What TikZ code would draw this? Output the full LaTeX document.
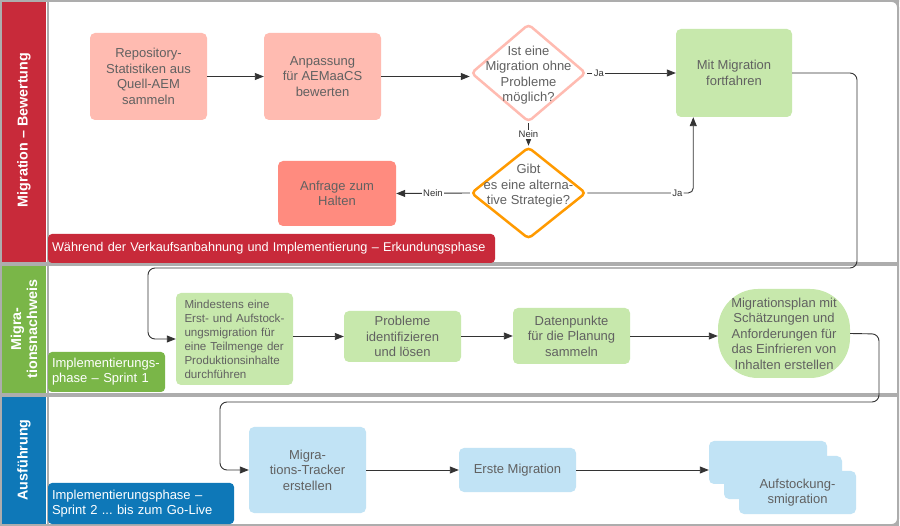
\documentclass[tikz,border=0pt]{standalone}
\usepackage{fontspec}
\setmainfont{Liberation Sans}
\usetikzlibrary{arrows.meta,shapes.geometric,calc}
\definecolor{bandred}{HTML}{C82A3A}
\definecolor{bandgreen}{HTML}{7AB648}
\definecolor{bandblue}{HTML}{0E78B8}
\definecolor{salmonlight}{HTML}{FFBBB1}
\definecolor{salmondark}{HTML}{FF8B7F}
\definecolor{greenlight}{HTML}{C7E8AC}
\definecolor{bluelight}{HTML}{C1E3F5}
\definecolor{orangeb}{HTML}{FF9A00}
\definecolor{txtgray}{HTML}{616161}
\definecolor{lanegray}{HTML}{ADADAD}
\definecolor{linegray}{HTML}{333333}
\frenchspacing
\tikzset{
  boxfont/.style={font=\fontsize{13}{15.5}\selectfont},
  procbox/.style={rounded corners=5pt, draw=none, align=center, text=txtgray, boxfont, inner sep=2pt},
  dia/.style={shape=diamond, draw, line width=2.5pt, rounded corners=4pt, fill=white, inner sep=0pt, aspect=1.15},
  diatext/.style={align=center, text=txtgray, boxfont, inner sep=0pt},
  banner/.style={rounded corners=4pt, text=white, align=left, inner sep=4pt, font=\fontsize{13}{15}\selectfont},
  lanetitle/.style={rotate=90, text=white, align=center, font=\fontsize{14.3}{16}\bfseries\selectfont},
  arr/.style={draw=linegray, line width=0.9pt, -{Triangle[length=9pt,width=7pt]}},
  lbl/.style={fill=white, text=linegray, inner sep=1.5pt, font=\fontsize{9.5}{10}\selectfont},
}
\begin{document}
\begin{tikzpicture}[x=1pt,y=-1pt]
\useasboundingbox (0,0) rectangle (900,526);
% lanes
\fill[white] (0,0) rectangle (900,526);
\draw[lanegray, line width=2pt] (1,1) rectangle (898,263);
\draw[lanegray, line width=2pt] (1,265) rectangle (898,394);
\draw[lanegray, line width=2pt] (1,396) rectangle (898,525);
\draw[lanegray, line width=2pt, rounded corners=6pt] (1,1) -- (893,1) -- (898,1) -- (898,525) -- (1,525);
\fill[bandred] (2,2) rectangle (46,262);
\fill[bandgreen] (2,266) rectangle (46,393);
\fill[bandblue] (2,397) rectangle (46,524);
\draw[lanegray, line width=2pt] (48,1) -- (48,525);
\node[lanetitle] (t1) at (24,130) {Migration – Bewertung};
\node[lanetitle] (t2) at (24,329) {Migra-\\tionsnachweis};
\node[lanetitle] (t3) at (24,460) {Ausführung};

% lane 1
\node[procbox, fill=salmonlight, minimum width=117pt, minimum height=87pt] (repo) at (148.5,76.5) {Repository-\\Statistiken aus\\Quell-AEM\\sammeln};
\node[procbox, fill=salmonlight, minimum width=117pt, minimum height=87pt] (anp) at (322.5,76.5) {Anpassung\\für AEMaaCS\\bewerten};
\node[dia, draw=salmonlight, minimum width=115pt, minimum height=98pt] (d1) at (528.5,73) {};
\node[diatext] (d1t) at (528.5,75) {Ist eine\\Migration ohne\\Probleme\\möglich?};
\node[procbox, fill=greenlight, minimum width=116pt, minimum height=88pt] (mit) at (734,73) {Mit Migration\\fortfahren};
\node[dia, draw=orangeb, minimum width=115pt, minimum height=92pt] (d2) at (528.5,193) {};
\node[diatext] (d2t) at (528.5,186) {Gibt\\es eine alterna-\\tive Strategie?};
\node[procbox, fill=salmondark, minimum width=118pt, minimum height=65pt] (anf) at (337,193.5) {Anfrage zum\\Halten};
\node[banner, fill=bandred, minimum height=29pt, text width=439pt, font=\fontsize{12.7}{15}\selectfont] (b1) at (271.5,248.5) {\mbox{Während der Verkaufsanbahnung und Implementierung – Erkundungsphase}};

% lane 2
\node[procbox, fill=greenlight, minimum width=117pt, minimum height=92pt, align=left, text width=100pt, font=\fontsize{11.6}{14}\selectfont] (mind) at (234.5,339) {Mindestens eine\\Erst- und Aufstock-\\ungsmigration für\\eine Teilmenge der\\Produktionsinhalte\\durchführen};
\node[procbox, fill=greenlight, minimum width=117pt, minimum height=51pt] (prob) at (402.5,336.5) {Probleme\\identifizieren\\und lösen};
\node[procbox, fill=greenlight, minimum width=117pt, minimum height=56pt] (dat) at (571.5,336) {Datenpunkte\\für die Planung\\sammeln};
\node[procbox, fill=greenlight, rounded corners=40pt, minimum width=132pt, minimum height=89pt] (plan) at (784,333.5) {Migrationsplan mit\\Schätzungen und\\Anforderungen für\\das Einfrieren von\\Inhalten erstellen};
\node[banner, fill=bandgreen, minimum height=40pt, text width=109pt] (b2) at (106.5,372) {Implementierungs-\\phase – Sprint 1};

% lane 3
\node[procbox, fill=bluelight, minimum width=117pt, minimum height=86pt] (tracker) at (307.5,470) {Migra-\\tions-Tracker\\erstellen};
\node[procbox, fill=bluelight, minimum width=117pt, minimum height=44pt] (erste) at (517.5,470) {Erste Migration};
\node[procbox, fill=bluelight, minimum width=118pt, minimum height=43pt] (s1) at (768,462.5) {};
\node[procbox, fill=bluelight, minimum width=118pt, minimum height=43pt] (s2) at (783,477.5) {};
\node[procbox, fill=bluelight, minimum width=117pt, minimum height=43pt] (s3) at (797.5,492.5) {Aufstockung-\\smigration};
\node[banner, fill=bandblue, minimum height=41pt, text width=178pt] (b3) at (141,503.5) {Implementierungsphase –\\Sprint 2 ... bis zum Go-Live};

% connectors
\draw[arr] (repo) -- (anp);
\draw[arr] (anp.east) -- (anp.east -| d1.west);
\draw[arr] (d1.east) -- node[lbl, pos=0.13] {Ja} (mit.west);
\draw[arr] (d1.south) -- node[lbl] {Nein} (d2.north);
\coordinate (c1) at ($(mit.south west)!0.15!(mit.south east)$);
\draw[arr, rounded corners=5pt] (d2.east) -- node[lbl, pos=0.85] {Ja} (d2.east -| c1) -- (c1);
\draw[arr] (d2.west) -- node[lbl] {Nein} (anf.east);
\coordinate (r1) at (857,73);
\coordinate (r2) at (857,268);
\coordinate (r3) at (148,268);
\draw[arr, rounded corners=7pt] (mit.east) -- (r1) -- (r2) -- (r3) -- (r3 |- mind.west) -- (mind.west);
\draw[arr] (prob.west -| mind.east) -- (prob.west);
\draw[arr] (dat.west -| prob.east) -- (dat.west);
\draw[arr] (dat.east) -- (dat.east -| plan.west);
\coordinate (q1) at (879,334);
\coordinate (q2) at (879,402);
\coordinate (q3) at (220,402);
\draw[arr, rounded corners=7pt] (plan.east) -- (q1) -- (q2) -- (q3) -- (q3 |- tracker.west) -- (tracker.west);
\draw[arr] (tracker) -- (erste);
\draw[arr] (erste.east) -- (erste.east -| s1.west);
\end{tikzpicture}
\end{document}
